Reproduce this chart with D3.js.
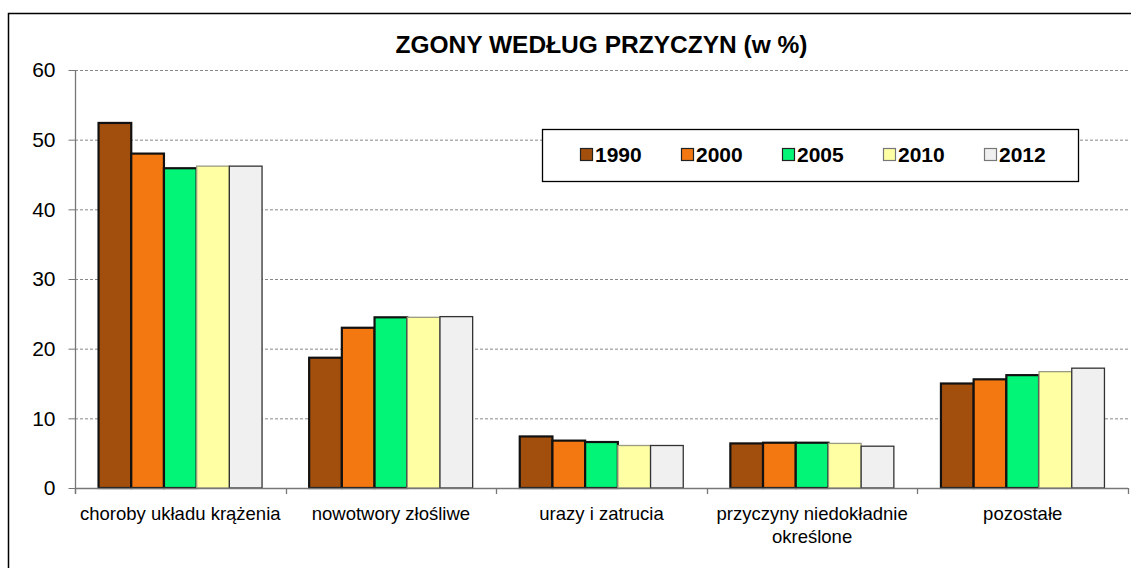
<!DOCTYPE html>
<html>
<head>
<meta charset="utf-8">
<script src="https://cdn.jsdelivr.net/npm/d3@7"></script>
<style>
  body { margin: 0; background: #fff; }
  svg { display: block; font-family: "Liberation Sans", Arial, sans-serif; }
</style>
</head>
<body>
<svg id="chart" width="1131" height="568"></svg>
<script>
// kategorie i lata
const kategorie = ["choroby układu krążenia", "nowotwory złośliwe", "urazy i zatrucia",
                   "przyczyny niedokładnie określone", "pozostałe"];
const lata = ["1990", "2000", "2005", "2010", "2012"];

// wartości w %, po jednej tablicy na rok
const w1990 = [52.4, 18.7, 7.4, 6.4, 15.0];
const w2000 = [48.0, 23.0, 6.8, 6.5, 15.6];
const w2005 = [45.9, 24.5, 6.6, 6.5, 16.2];
const w2010 = [46.2, 24.5, 6.1, 6.4, 16.7];
const w2012 = [46.2, 24.6, 6.1, 6.0, 17.2];

const yTicks = [0, 10, 20, 30, 40, 50, 60];

const serie = [w1990, w2000, w2005, w2010, w2012];
const kolory = ["#A24F0E", "#F47812", "#03F577", "#FFFFA3", "#F0F0F0"];
const obrys = ["#111", "#111", "#111", "#9a9a80", "#333"];
const grubosc = [2.2, 2.2, 2.2, 1.3, 1.3];

const svg = d3.select("#chart");
const pLewo = 75, pPrawo = 1128, pGora = 70, pDol = 488;

const x0 = d3.scaleBand().domain(kategorie).range([pLewo, pPrawo]).padding(0);
const x1 = d3.scaleBand().domain(lata).range([0, x0.bandwidth()])
    .paddingInner(0).paddingOuter(0.72);
const y = d3.scaleLinear().domain([0, 60]).range([pDol, pGora]);

// ramka wykresu
svg.append("rect")
    .attr("x", 8.5).attr("y", 13.5)
    .attr("width", 1200).attr("height", 1000)
    .attr("fill", "none").attr("stroke", "#000").attr("stroke-width", 1.5);

// tytuł
svg.append("text")
    .attr("x", (pLewo + pPrawo) / 2).attr("y", 53)
    .attr("text-anchor", "middle")
    .attr("font-size", 24.5).attr("font-weight", "bold")
    .text("ZGONY WEDŁUG PRZYCZYN (w %)");

// linie siatki
svg.append("g").selectAll("line")
    .data(yTicks.filter(d => d > 0))
    .join("line")
    .attr("x1", pLewo).attr("x2", pPrawo)
    .attr("y1", d => y(d) + 0.5).attr("y2", d => y(d) + 0.5)
    .attr("stroke", "#888").attr("stroke-width", 1)
    .attr("stroke-dasharray", "3,2");

// oś Y
const osY = svg.append("g")
    .attr("transform", `translate(${pLewo + 0.5},0)`)
    .call(d3.axisLeft(y).tickValues(yTicks).tickSize(7).tickPadding(13).tickSizeOuter(0));
osY.select(".domain").attr("stroke", "#777").attr("stroke-width", 1.3)
    .attr("d", `M0,${pGora}V${pDol + 6}`);
osY.selectAll(".tick line").attr("stroke", "#777");
osY.selectAll(".tick text").attr("font-size", 21).attr("fill", "#000")
    .attr("font-family", "Liberation Sans, Arial, sans-serif");

// słupki
const grupy = svg.append("g").selectAll("g")
    .data(kategorie)
    .join("g")
    .attr("transform", d => `translate(${x0(d)},0)`);

grupy.selectAll("rect")
    .data((d, i) => lata.map((r, j) => ({ rok: r, j: j, v: serie[j][i] })))
    .join("rect")
    .attr("x", d => x1(d.rok))
    .attr("y", d => y(d.v))
    .attr("width", x1.bandwidth())
    .attr("height", d => y(0) - y(d.v))
    .attr("fill", d => kolory[d.j])
    .attr("stroke", d => obrys[d.j])
    .attr("stroke-width", d => grubosc[d.j]);

// oś X
svg.append("line")
    .attr("x1", pLewo).attr("x2", pPrawo)
    .attr("y1", pDol + 0.5).attr("y2", pDol + 0.5)
    .attr("stroke", "#777").attr("stroke-width", 1.5);

const granice = kategorie.map(k => x0(k)).concat([pPrawo]);
svg.append("g").selectAll("line")
    .data(granice)
    .join("line")
    .attr("x1", d => Math.round(d) + 0.5).attr("x2", d => Math.round(d) + 0.5)
    .attr("y1", pDol).attr("y2", pDol + 6)
    .attr("stroke", "#777").attr("stroke-width", 1.3);

// etykiety kategorii
const etykiety = { "przyczyny niedokładnie określone": ["przyczyny niedokładnie", "określone"] };
svg.append("g").selectAll("text")
    .data(kategorie)
    .join("text")
    .attr("x", d => x0(d) + x0.bandwidth() / 2)
    .attr("y", 520)
    .attr("text-anchor", "middle")
    .attr("font-size", 18.5)
    .each(function (d) {
        const linie = etykiety[d] || [d];
        d3.select(this).selectAll("tspan")
            .data(linie)
            .join("tspan")
            .attr("x", x0(d) + x0.bandwidth() / 2)
            .attr("dy", (l, i) => i === 0 ? 0 : 23)
            .text(l => l);
    });

// legenda
const legenda = svg.append("g");
legenda.append("rect")
    .attr("x", 542.5).attr("y", 129.5)
    .attr("width", 536).attr("height", 52)
    .attr("fill", "#fff").attr("stroke", "#000").attr("stroke-width", 1.3);

const poz = d3.scalePoint().domain(lata).range([580, 984]);
const el = legenda.selectAll("g.el")
    .data(lata)
    .join("g")
    .attr("class", "el")
    .attr("transform", d => `translate(${poz(d)},0)`);
el.append("rect")
    .attr("x", 0.5).attr("y", 148.5)
    .attr("width", 12).attr("height", 12)
    .attr("fill", (d, i) => kolory[i])
    .attr("stroke", (d, i) => i < 3 ? "#222" : "#777")
    .attr("stroke-width", 1.2);
el.append("text")
    .attr("x", 15).attr("y", 162)
    .attr("font-size", 21).attr("font-weight", "bold")
    .text(d => d);
</script>
</body>
</html>
